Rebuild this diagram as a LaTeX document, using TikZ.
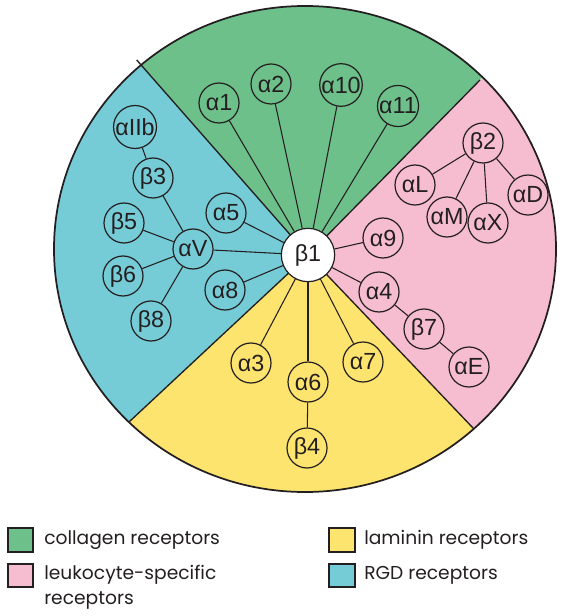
\documentclass[tikz,border=0pt]{standalone}
\usepackage{fontspec}
\setmainfont{Liberation Sans}
\newfontfamily\legendfont{Poppins}
\usetikzlibrary{calc}
\definecolor{collagen}{RGB}{110,192,139}
\definecolor{leuko}{RGB}{246,188,208}
\definecolor{laminin}{RGB}{253,228,110}
\definecolor{rgd}{RGB}{118,204,214}
\definecolor{ink}{RGB}{35,31,32}

\begin{document}
\begin{tikzpicture}[x=0.75pt,y=-0.75pt,
    rec/.style={circle,draw=ink,line width=0.9pt,minimum size=30pt,inner sep=0pt,
      font=\fontsize{17.5}{17.5}\selectfont,text=ink},
    link/.style={draw=ink,line width=0.8pt},
    keybox/.style={draw=ink,line width=0.8pt},
    keytext/.style={anchor=base west,inner sep=0pt,text=ink,
      font=\legendfont\fontsize{14}{16}\selectfont}]

     \useasboundingbox (0,0) rectangle (575,616);

     % sectors
     \coordinate (c) at (308,255);
     \coordinate (gb) at (136.7,60);
     \coordinate (gp) at (480,80);
     \coordinate (yp) at (473.3,428.3);
     \coordinate (by) at (129.3,421.7);
     \begin{scope}
       \clip (305,249) ellipse [x radius=251, y radius=243];
       \fill[collagen] (c) -- ($(c)!3!(gb)$) -- ($(c)!3!(gp)$) -- cycle;
       \fill[leuko] (c) -- ($(c)!3!(gp)$) -- ($(c)!3!(yp)$) -- cycle;
       \fill[laminin] (c) -- ($(c)!3!(yp)$) -- ($(c)!3!(by)$) -- cycle;
       \fill[rgd] (c) -- ($(c)!3!(by)$) -- ($(c)!3!(gb)$) -- cycle;
     \end{scope}
     \draw[ink,line width=1pt] (c) -- (gb) (c) -- (gp) (c) -- (yp) (c) -- (by);
     \draw[ink,line width=1.3pt] (305,249) ellipse [x radius=251, y radius=243];

     % receptors
     \path (308,255) node[rec,fill=white,minimum size=40pt] (b1) {β1};

     \path (219,103) node[rec] (a1) {α1};
     \path (271,84) node[rec] (a2) {α2};
     \path (341,85) node[rec] (a10) {α10};
     \path (398,106) node[rec] (a11) {α11};

     \path (483,143) node[rec] (b2) {β2};
     \path (415,185) node[rec] (aL) {αL};
     \path (447,217) node[rec] (aM) {αM};
     \path (488,223) node[rec] (aX) {αX};
     \path (528,195) node[rec] (aD) {αD};
     \path (383,238) node[rec] (a9) {α9};
     \path (379,292) node[rec] (a4) {α4};
     \path (424,329) node[rec] (b7) {β7};
     \path (469,367) node[rec] (aE) {αE};

     \path (251,363) node[rec] (a3) {α3};
     \path (308,382) node[rec] (a6) {α6};
     \path (363,362) node[rec] (a7) {α7};
     \path (307,448) node[rec] (b4) {β4};

     \path (135,127) node[rec] (aIIb) {αIIb};
     \path (153,178) node[rec] (b3) {β3};
     \path (124,223) node[rec] (b5) {β5};
     \path (193,249) node[rec] (aV) {αV};
     \path (123,276) node[rec] (b6) {β6};
     \path (151,321) node[rec] (b8) {β8};
     \path (226,213) node[rec] (a5) {α5};
     \path (225,290) node[rec] (a8) {α8};

     % links
     \foreach \r in {a1,a2,a10,a11,a9,a4,a7,a6,a3,a8,aV,a5}
       \draw[link] (b1) -- (\r);
     \draw[link] (a6) -- (b4);
     \draw[link] (a4) -- (b7) -- (aE);
     \foreach \r in {aL,aM,aX,aD}
       \draw[link] (b2) -- (\r);
     \foreach \r in {b3,b5,b6,b8}
       \draw[link] (aV) -- (\r);
     \draw[link] (b3) -- (aIIb);

     % legend
     \draw[keybox,fill=collagen] (8,528) rectangle (33,552);
     \draw[keybox,fill=leuko] (8,564) rectangle (33,587);
     \draw[keybox,fill=laminin] (329,528) rectangle (355,552);
     \draw[keybox,fill=rgd] (329,564) rectangle (355,587);
     \path (44,544) node[keytext] (kc) {collagen receptors};
     \path (44,579) node[keytext] (kl) {leukocyte-specific};
     \path (44,604) node[keytext] (kl2) {receptors};
     \path (364,544) node[keytext] (km) {laminin receptors};
     \path (364,579) node[keytext] (kr) {RGD receptors};
\end{tikzpicture}
\end{document}
